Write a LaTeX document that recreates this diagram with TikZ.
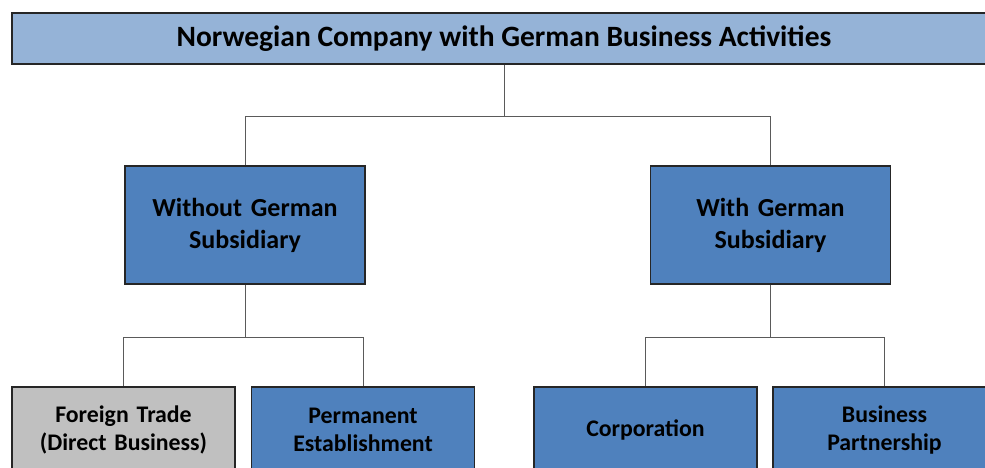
\documentclass[tikz,border=0pt]{standalone}
\usepackage{fontspec}
\setmainfont{Carlito}
\usetikzlibrary{arrows,shapes}
\definecolor{topblue}{RGB}{149, 179, 215}
\definecolor{boxblue}{RGB}{79, 129, 189}
\definecolor{boxgray}{RGB}{192, 192, 192}
\definecolor{linegray}{RGB}{90, 90, 90}
\tikzstyle{header}=[rectangle, draw=black!85, line width=1.2pt, minimum width=984pt, minimum height=51pt, fill=topblue, font=\fontsize{29.5}{34}\selectfont\bfseries]
\tikzstyle{branch}=[rectangle, draw=black!85, line width=1.2pt, text width=230pt, align=center, minimum width=240pt, minimum height=118pt, fill=boxblue, font=\fontsize{26}{32}\selectfont\bfseries]
\tikzstyle{form}=[rectangle, draw=black!85, line width=1.2pt, text width=215pt, align=center, minimum width=223pt, minimum height=86pt, fill=boxblue, font=\fontsize{23.8}{28}\selectfont\bfseries]
\tikzstyle{conn}=[draw=linegray, line width=0.8pt]

\begin{document}
\begin{tikzpicture}[auto]
      %
      \path[use as bounding box] (-504pt,38.5pt) rectangle (481pt,-428.5pt);
      %
      % Company
      %
      \node[header] (company) {Norwegian Company with German Business Activities};
      %
      % Without / with subsidiary
      %
      \node[branch, below of=company, node distance=186.5pt, xshift=-259pt] (without) {Without German\\ Subsidiary};
      \node[branch, right of=without, node distance=525.5pt] (with) {With German\\ Subsidiary};
      \coordinate (split) at ([yshift=-52pt]company.south);
      \path[conn] (company.south) -- (split);
      \path[conn] (split) -| (without.north);
      \path[conn] (split) -| (with.north);
      %
      % Without subsidiary --> trade, establishment
      %
      \node[form, fill=boxgray, below of=without, node distance=205pt, xshift=-121.5pt] (trade) {Foreign Trade\\ (Direct Business)};
      \node[form, right of=trade, node distance=239.5pt] (establishment) {Permanent\\ Establishment};
      \coordinate (splitwithout) at ([yshift=-53pt]without.south);
      \path[conn] (without.south) -- (splitwithout);
      \path[conn] (splitwithout) -| (trade.north);
      \path[conn] (splitwithout) -| (establishment.north);
      %
      % With subsidiary --> corporation, partnership
      %
      \node[form, below of=with, node distance=205pt, xshift=-125pt] (corporation) {Corporation};
      \node[form, right of=corporation, node distance=239pt] (partnership) {Business\\ Partnership};
      \coordinate (splitwith) at ([yshift=-53pt]with.south);
      \path[conn] (with.south) -- (splitwith);
      \path[conn] (splitwith) -| (corporation.north);
      \path[conn] (splitwith) -| (partnership.north);
      %
\end{tikzpicture}
\end{document}
